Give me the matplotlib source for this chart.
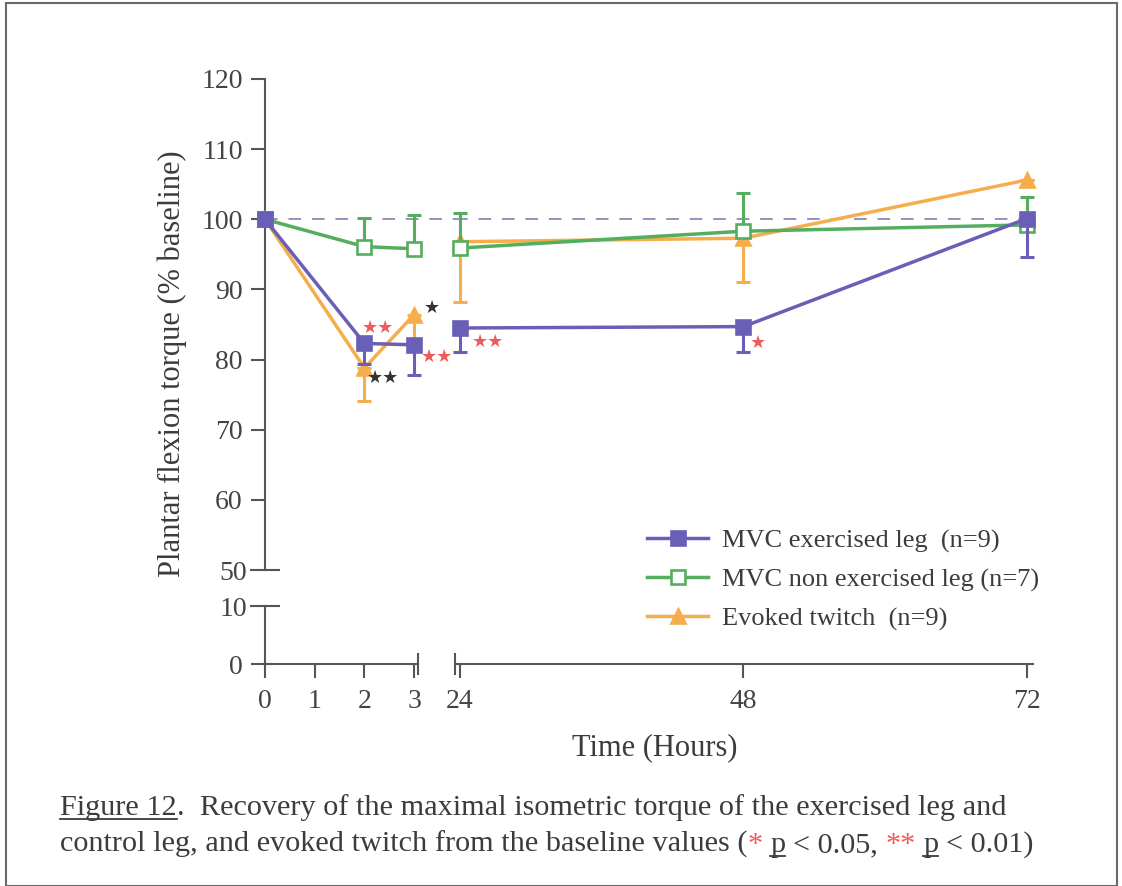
import numpy as np
import matplotlib
matplotlib.use("Agg")
import matplotlib.pyplot as plt
from matplotlib.lines import Line2D
from matplotlib.patches import Rectangle

plt.rcParams.update({
    "font.family": "Liberation Serif",
    "font.size": 20,
    "axes.edgecolor": "#555555",
    "axes.linewidth": 1.5,
    "xtick.color": "#555555",
    "ytick.color": "#555555",
    "xtick.labelcolor": "#444444",
    "ytick.labelcolor": "#444444",
})

# ---- data ----
t_early = [0, 2, 3]
t_late = [24, 48, 72]

mvc_ex = [100.0, 82.3, 82.1, 84.5, 84.7, 100.1]
mvc_ex_lo = [0.0, 2.9, 4.3, 3.4, 3.6, 5.5]

mvc_non = [100.0, 96.1, 95.8, 95.9, 98.3, 99.2]
mvc_non_hi = [0.0, 4.1, 4.8, 5.0, 5.4, 4.0]

twitch = [100.0, 78.8, 86.4, 96.8, 97.3, 105.6]
twitch_lo = [0.0, 4.7, 3.9, 8.6, 6.2, 0.0]

labels = ["MVC exercised leg  (n=9)", "MVC non exercised leg (n=7)", "Evoked twitch  (n=9)"]

# significance marks: (hours, value, text, colour)
stars = [
    (2.27, 84.5, "\u2605\u2605", "#ef5b5b"),
    (2.37, 77.4, "\u2605\u2605", "#333333"),
    (3.36, 87.4, "\u2605", "#333333"),
    (3.46, 80.4, "\u2605\u2605", "#ef5b5b"),
    (26.4, 82.5, "\u2605\u2605", "#ef5b5b"),
    (49.2, 82.4, "\u2605", "#ef5b5b"),
]

PURPLE = "#6a5fb6"
GREEN = "#55ae5e"
ORANGE = "#f6ad4c"
TXT = "#3c3c3c"

W, H = 1122, 886
fig = plt.figure(figsize=(W / 100, H / 100), dpi=100)


def rect(x0, y0, x1, y1):
    return [x0 / W, 1 - y1 / H, (x1 - x0) / W, (y1 - y0) / H]


ax_ul = fig.add_axes(rect(265, 79, 418, 570))
ax_ur = fig.add_axes(rect(455, 79, 1033, 570))
ax_ll = fig.add_axes(rect(265, 606, 418, 664))
ax_lr = fig.add_axes(rect(455, 606, 1033, 664))

XL = (0, 3.078)
XR = (23.577, 72.52)

for ax in (ax_ul, ax_ur, ax_ll, ax_lr):
    ax.patch.set_alpha(0)
    for s in ("top", "right"):
        ax.spines[s].set_visible(False)
    ax.tick_params(length=10, width=1.5, pad=6)

for ax in (ax_ul, ax_ur):
    ax.set_ylim(50, 120)
    ax.spines["bottom"].set_visible(False)
    ax.tick_params(axis="x", which="both", bottom=False, labelbottom=False)
for ax in (ax_ll, ax_lr):
    ax.set_ylim(0, 10)
ax_ul.set_xlim(*XL)
ax_ll.set_xlim(*XL)
ax_ur.set_xlim(*XR)
ax_lr.set_xlim(*XR)

for ax in (ax_ur, ax_lr):
    ax.spines["left"].set_visible(False)
    ax.tick_params(axis="y", which="both", left=False, labelleft=False)

# y ticks, break ticks drawn as inout minor ticks with labels
ax_ul.set_yticks([60, 70, 80, 90, 100, 110, 120])
ax_ul.set_yticks([50], minor=True)
ax_ul.set_yticklabels(["50"], minor=True)
ax_ul.tick_params(axis="y", which="minor", direction="inout", length=22, width=1.5, pad=2)
ax_ll.set_yticks([0])
ax_ll.set_yticks([10], minor=True)
ax_ll.set_yticklabels(["10"], minor=True)
ax_ll.tick_params(axis="y", which="minor", direction="inout", length=22, width=1.5, pad=2)

# x ticks + break marks
ax_ll.set_xticks([0, 1, 2, 3])
ax_ll.set_xticks([XL[1]], minor=True)
ax_ll.tick_params(axis="x", which="minor", direction="inout", length=16, width=1.5)
ax_lr.set_xticks([24, 48, 72])
ax_lr.set_xticks([XR[0]], minor=True)
ax_lr.tick_params(axis="x", which="minor", direction="inout", length=16, width=1.5)
ax_ll.tick_params(axis="x", pad=8)
ax_lr.tick_params(axis="x", pad=8)

# baseline dashed line
ax_ul.axhline(100, xmin=0, xmax=(455 - 265) / 153, color="#8d89b6", lw=1.3,
              dashes=(7, 6), zorder=1, clip_on=False)
ax_ur.axhline(100, color="#8d89b6", lw=1.3, dashes=(7, 6), zorder=1, clip_on=False)


def draw(ax, x, sl, y, lo, hi, color, marker, mfc, z):
    y = np.array(y)[sl]
    lo = np.array(lo)[sl]
    hi = np.array(hi)[sl]
    ax.errorbar(x, y, yerr=[lo, hi], fmt="none", ecolor=color, elinewidth=2.2,
                capsize=4.8, capthick=2.2, zorder=z, clip_on=False)
    line, = ax.plot(x, y, color=color, lw=2.5, marker=marker, ms=10.5,
                    mfc=mfc, mec=color, mew=1.9, zorder=z + 0.1, clip_on=False)
    return line


handles = []
for sl, ax, x in ((slice(0, 3), ax_ul, t_early), (slice(3, 6), ax_ur, t_late)):
    h3 = draw(ax, x, sl, twitch, twitch_lo, np.zeros(6), ORANGE, "^", ORANGE, 3)
    h2 = draw(ax, x, sl, mvc_non, np.zeros(6), mvc_non_hi, GREEN, "s", "white", 4)
    h1 = draw(ax, x, sl, mvc_ex, mvc_ex_lo, np.zeros(6), PURPLE, "s", PURPLE, 5)
    handles = [h1, h2, h3]

for hx, hy, s, c in stars:
    ax = ax_ul if hx < 10 else ax_ur
    ax.text(hx, hy, s, color=c, fontsize=13, family="DejaVu Sans",
            ha="center", va="center", clip_on=False, zorder=6)

leg = ax_ur.legend(handles, labels, loc="center left",
                   bbox_to_anchor=(634 / W, 1 - 580 / H), bbox_transform=fig.transFigure,
                   frameon=False, handlelength=2.3, handletextpad=0.55,
                   labelspacing=0.58, fontsize=19, borderpad=0, labelcolor=TXT)

fig.text(172 / W, 1 - 364 / H, "Plantar flexion torque (% baseline)", rotation=90,
         ha="center", va="center", color=TXT, fontsize=22)
fig.text(655 / W, 1 - 748 / H, "Time (Hours)", ha="center", va="center",
         color=TXT, fontsize=22)

# caption with underlined / coloured pieces
fig.canvas.draw()
renderer = fig.canvas.get_renderer()
CAP = dict(fontsize=21.8, color=TXT, va="baseline", ha="left")


def text_width(s):
    t = fig.text(0, 0, s, **CAP)
    w = t.get_window_extent(renderer).width
    t.remove()
    return w


space_w = text_width("n n") - text_width("nn")


def caption_line(x, y, pieces):
    for s, color, ul in pieces:
        if s == " ":
            x += space_w
            continue
        t = fig.text(x / W, 1 - y / H, s, **{**CAP, "color": color})
        bb = t.get_window_extent(renderer)
        if ul:
            fig.add_artist(Line2D([bb.x0 / W, bb.x1 / W],
                                  [(H - y - 4) / H] * 2, color=TXT, lw=1.3))
        x += bb.width


RED = "#ef5b5b"
caption_line(60, 815, [("Figure 12", TXT, True), (".", TXT, False), (" ", 0, 0), (" ", 0, 0),
                       ("Recovery of the maximal isometric torque of the exercised leg and", TXT, False)])
caption_line(60, 852, [("control leg, and evoked twitch from the baseline values (", TXT, False),
                       ("*", RED, False), (" ", 0, 0), ("p", TXT, True), (" ", 0, 0),
                       ("< 0.05,", TXT, False), (" ", 0, 0), ("**", RED, False), (" ", 0, 0),
                       ("p", TXT, True), (" ", 0, 0), ("< 0.01)", TXT, False)])

# outer frame of the scanned figure
fig.add_artist(Rectangle((6 / W, 0.0), 1111 / W, 1 - 3 / H, transform=fig.transFigure,
                         fill=False, ec="#6a6a6a", lw=1.5))

fig.savefig("out.png", dpi=100)
